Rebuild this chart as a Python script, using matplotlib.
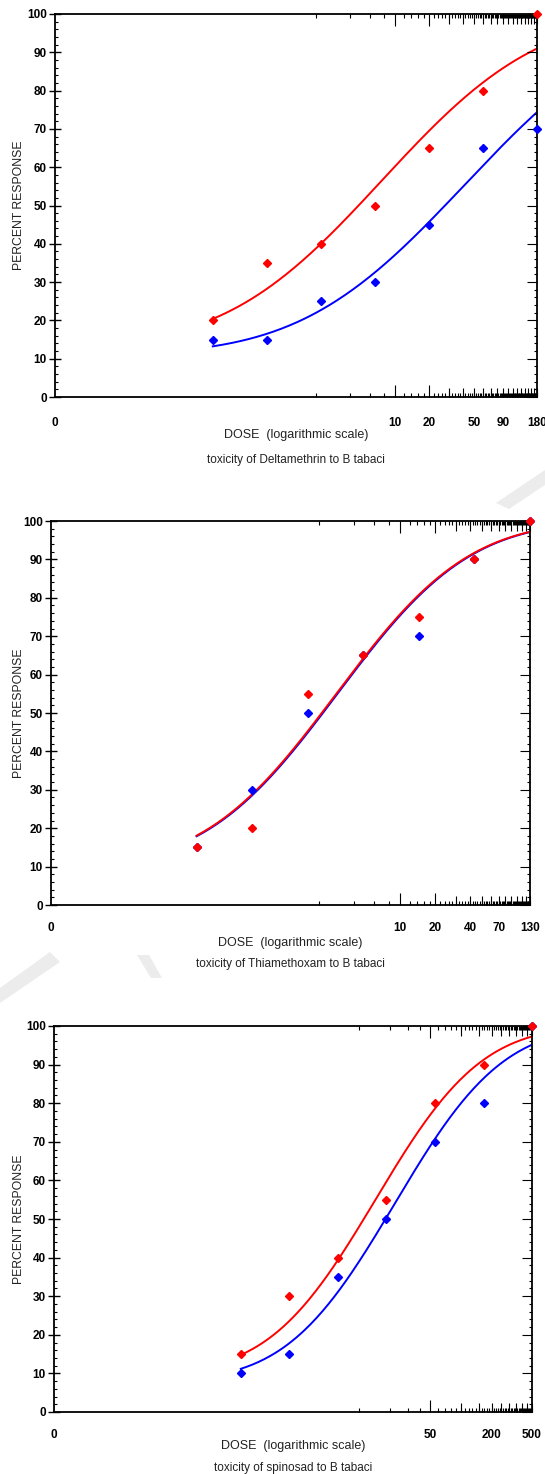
import math
import numpy as np
import matplotlib
matplotlib.use("Agg")
import matplotlib.pyplot as plt
from matplotlib.ticker import NullLocator
from matplotlib.patches import Polygon

plt.rcParams['font.family'] = ['Liberation Sans', 'DejaVu Sans']

W, H = 545, 1474
DPI = 100

# Deltamethrin
delta_dose = [0.247, 0.741, 2.22, 6.67, 20, 60, 180]
delta_red = [20, 35, 40, 50, 65, 80, 100]
delta_blue = [15, 15, 25, 30, 45, 65, 70]
delta_fit_red = (0.13, 0.92, 0.885)   # background, slope, log10 LC50
delta_fit_blue = (0.11, 0.88, 1.62)
delta_labels = [10, 20, 50, 90, 180]

# Thiamethoxam
thia_dose = [0.178, 0.535, 1.6, 4.81, 14.4, 43.3, 130]
thia_red = [15, 20, 55, 65, 75, 90, 100]
thia_blue = [15, 30, 50, 65, 70, 90, 100]
thia_fit_red = (0.10, 1.12, 0.45)
thia_fit_blue = (0.10, 1.12, 0.46)
thia_labels = [10, 20, 40, 70, 130]

# spinosad
spin_dose = [0.686, 2.06, 6.17, 18.5, 55.6, 167, 500]
spin_red = [15, 30, 40, 55, 80, 90, 100]
spin_blue = [10, 15, 35, 50, 70, 80, 100]
spin_fit_red = (0.10, 1.22, 1.16)
spin_fit_blue = (0.08, 1.20, 1.35)
spin_labels = [50, 200, 500]

RED = '#ff0000'
BLUE = '#0000ff'


def probit(dose, c, b, m):
    z = b * (np.log10(dose) - m)
    phi = 0.5 * (1 + np.array([math.erf(v / math.sqrt(2)) for v in z]))
    return 100 * (c + (1 - c) * phi)


def marks_x(ax, xs, length, hpx):
    f = length / hpx
    tr = ax.get_xaxis_transform()
    ax.vlines(xs, 0, f, transform=tr, color='k', lw=0.8, clip_on=False)
    ax.vlines(xs, 1 - f, 1, transform=tr, color='k', lw=0.8, clip_on=False)


def marks_right(ax, ys, length, wpx):
    f = length / wpx
    tr = ax.get_yaxis_transform()
    ax.hlines(ys, 1 - f, 1, transform=tr, color='k', lw=0.8, clip_on=False)


def panel(box, doses, red, blue, fit_red, fit_blue, labels, step, med_step,
          tall, title, offs):
    left, top, right, bottom = box
    wpx, hpx = right - left, bottom - top
    ax = fig.add_axes([left / W, 1 - bottom / H, wpx / W, hpx / H])
    ax.patch.set_alpha(0)
    xmin, xmax = 0.01, doses[-1]

    xs = np.logspace(np.log10(doses[0]), np.log10(doses[-1]), 200)
    ax.plot(xs, probit(xs, *fit_blue), color=BLUE, lw=1.4)
    ax.plot(xs, probit(xs, *fit_red), color=RED, lw=1.4)
    ax.plot(doses, blue, 'D', color=BLUE, ms=3.8, clip_on=False, zorder=5)
    ax.plot(doses, red, 'D', color=RED, ms=3.8, clip_on=False, zorder=6)

    ax.set_xscale('log')
    ax.set_xlim(xmin, xmax)
    ax.set_ylim(0, 100)
    for s in ax.spines.values():
        s.set_linewidth(1.3)

    # x axis: labels only, tick marks drawn below
    ax.set_xticks([xmin] + labels)
    ax.set_xticklabels(['0'] + [str(v) for v in labels],
                       fontsize=8.5, fontweight='bold')
    ax.xaxis.set_minor_locator(NullLocator())
    ax.tick_params(axis='x', length=0, pad=offs[0])

    small = [v for v in np.arange(step, xmax + 0.01, step) if v not in tall]
    medium = [v for v in np.arange(med_step, xmax + 0.01, med_step)
              if v not in tall and v > tall[-1]]
    marks_x(ax, small, 4, hpx)
    marks_x(ax, medium, 9.5, hpx)
    marks_x(ax, tall, 12, hpx)

    # y axis
    ax.set_yticks(range(0, 101, 10))
    ax.set_yticks(range(0, 101, 2), minor=True)
    ax.tick_params(axis='y', which='major', direction='inout', length=8,
                   width=1.0, pad=2, labelsize=8.5)
    ax.tick_params(axis='y', which='minor', direction='in', length=2.5,
                   width=0.8)
    for t in ax.get_yticklabels():
        t.set_fontweight('bold')
    marks_right(ax, range(0, 101, 10), 10, wpx)
    marks_right(ax, [v for v in range(0, 101, 2) if v % 10], 3.5, wpx)

    cx = (left + right) / 2 / W
    fig.text(cx, 1 - (bottom + offs[1]) / H, 'DOSE  (logarithmic scale)',
             ha='center', va='center', fontsize=9, color='#222222')
    fig.text(cx, 1 - (bottom + offs[2]) / H, title,
             ha='center', va='center', fontsize=8.5, color='#222222')
    fig.text(19 / W, 1 - (top + bottom) / 2 / H, 'PERCENT RESPONSE',
             rotation=90, ha='center', va='center', fontsize=8.8,
             color='#222222')
    return ax


fig = plt.figure(figsize=(W / DPI, H / DPI), dpi=DPI)

# faint watermark strokes behind the panels
for pts in ([(0, 988), (0, 1003), (60, 962), (50, 952)],
            [(137, 955), (149, 955), (162, 978), (151, 978)],
            [(496, 503), (509, 509), (545, 485), (545, 470)]):
    fig.patches.append(Polygon([(x / W, 1 - y / H) for x, y in pts],
                               closed=True, transform=fig.transFigure,
                               facecolor='#ececec', edgecolor='none',
                               zorder=0))

panel((55, 14, 537, 397), delta_dose, delta_red, delta_blue,
      delta_fit_red, delta_fit_blue, delta_labels, 2, 10, [10, 20],
      'toxicity of Deltamethrin to B tabaci', (14.5, 38, 63))
panel((51, 521, 530, 905), thia_dose, thia_red, thia_blue,
      thia_fit_red, thia_fit_blue, thia_labels, 2, 10, [10, 20],
      'toxicity of Thiamethoxam to B tabaci', (12.5, 38, 59))
panel((54, 1026, 532, 1412), spin_dose, spin_red, spin_blue,
      spin_fit_red, spin_fit_blue, spin_labels, 10, 50, [50],
      'toxicity of spinosad to B tabaci', (12, 34, 56))

fig.savefig('out.png', dpi=DPI)
